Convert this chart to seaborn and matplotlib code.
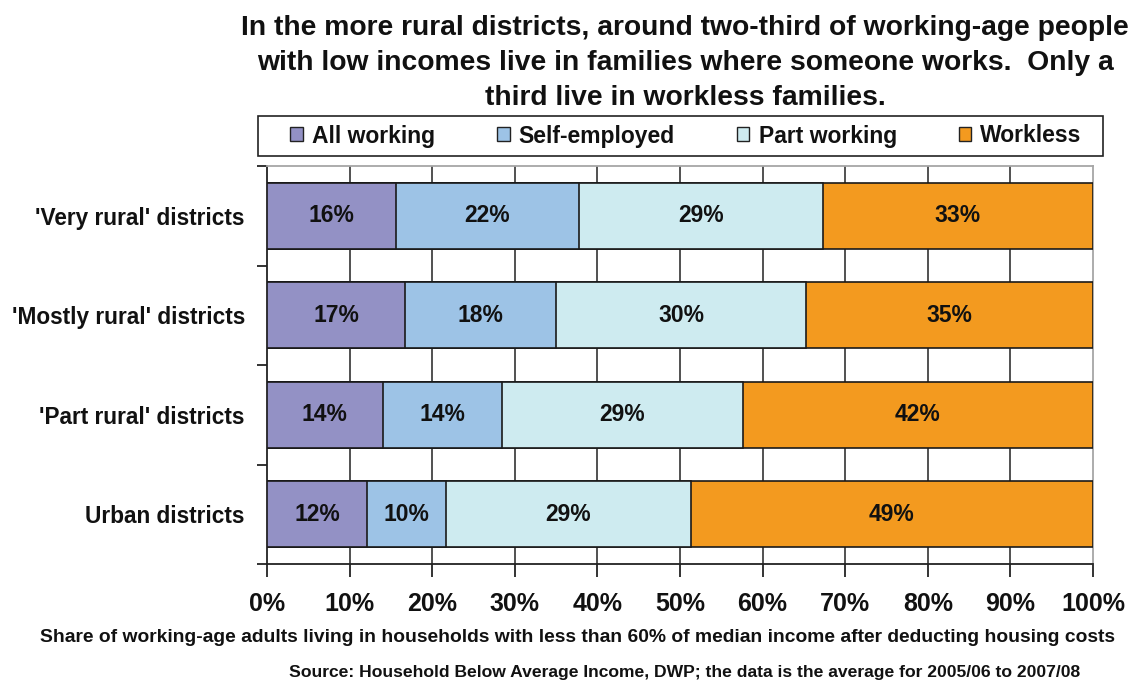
import matplotlib
matplotlib.use("Agg")
import matplotlib.pyplot as plt
import seaborn as sns
import pandas as pd
import numpy as np
from matplotlib.patches import Patch, Rectangle

categories = ["'Very rural' districts", "'Mostly rural' districts", "'Part rural' districts", "Urban districts"]
series = ["All working", "Self-employed", "Part working", "Workless"]
all_working = [15.6, 16.7, 14.0, 12.1]
self_employed = [22.2, 18.3, 14.4, 9.6]
part_working = [29.5, 30.3, 29.2, 29.6]
workless = [32.7, 34.7, 42.4, 48.7]
labels_all = ["16%", "17%", "14%", "12%"]
labels_self = ["22%", "18%", "14%", "10%"]
labels_part = ["29%", "30%", "29%", "29%"]
labels_workless = ["33%", "35%", "42%", "49%"]
tick_values = [0, 10, 20, 30, 40, 50, 60, 70, 80, 90, 100]
tick_labels = ["0%", "10%", "20%", "30%", "40%", "50%", "60%", "70%", "80%", "90%", "100%"]
colors = ["#9391C5", "#9DC3E6", "#CEEBF0", "#F39A1F"]

title_lines = ["In the more rural districts, around two-third of working-age people",
               "with low incomes live in families where someone works.  Only a",
               "third live in workless families."]
xlabel = "Share of working-age adults living in households with less than 60% of median income after deducting housing costs"
source = "Source: Household Below Average Income, DWP; the data is the average for 2005/06 to 2007/08"

sns.set_theme(style="white")
plt.rcParams['font.family'] = ['Liberation Sans', 'DejaVu Sans']
plt.rcParams['font.weight'] = 'bold'
plt.rcParams['text.color'] = '#111111'
plt.rcParams['xtick.color'] = '#111111'
plt.rcParams['ytick.color'] = '#111111'

values = [all_working, self_employed, part_working, workless]
bar_labels = [labels_all, labels_self, labels_part, labels_workless]
cum = np.cumsum(np.array(values), axis=0)

df = pd.DataFrame({"category": categories})
for i, s in enumerate(series):
    df[s + "_cum"] = cum[i]

fig = plt.figure(figsize=(11.34, 6.82), dpi=100)
ax = fig.add_axes([267/1134, 1 - 564/682, (1093-267)/1134, (564-166)/682])

for i in reversed(range(len(series))):
    sns.barplot(data=df, x=series[i] + "_cum", y="category", orient="h",
                color=colors[i], saturation=1, width=0.66, edgecolor="#1a1a1a",
                linewidth=1.2, ax=ax, zorder=3)

for i in range(len(series)):
    starts = cum[i] - np.array(values[i])
    for j in range(len(categories)):
        ax.text(starts[j] + values[i][j] / 2, j, bar_labels[i][j], ha="center", va="center",
                fontsize=16.5, fontweight="bold", color="#111111", zorder=5)

ax.set_xlim(0, 100)
ax.set_ylim(3.5, -0.5)
ax.set_xticks(tick_values)
ax.set_xticklabels(tick_labels, fontsize=18, fontweight="bold")
ax.set_yticks(range(len(categories)))
ax.set_yticklabels(categories, fontsize=16.3, fontweight="bold")
ax.set_yticks([-0.5, 0.5, 1.5, 2.5, 3.5], minor=True)
ax.tick_params(axis="y", which="major", length=0, pad=16, left=False)
ax.tick_params(axis="y", which="minor", length=7, width=1.2, color="#111111", direction="out", left=True)
ax.tick_params(axis="x", which="major", length=9, width=1.2, color="#111111", direction="out",
               pad=11, bottom=True)
for v in tick_values[1:-1]:
    ax.axvline(v, color="#222222", lw=1.1, zorder=1)
ax.set_xlabel("")
ax.set_ylabel("")
for side in ["left", "bottom"]:
    ax.spines[side].set_color("#222222")
    ax.spines[side].set_linewidth(1.3)
for side in ["top", "right"]:
    ax.spines[side].set_color("#A6A6A6")
    ax.spines[side].set_linewidth(1.3)
    ax.spines[side].set_visible(True)

# legend box
fig.patches.append(Rectangle((258/1134, 1 - 156/682), (1103-258)/1134, 40/682,
                             transform=fig.transFigure, facecolor="white",
                             edgecolor="#222222", linewidth=1.2, zorder=0))
handles = [Patch(facecolor=c, edgecolor="#222222", linewidth=1.0) for c in colors]
leg = fig.legend(handles, series, loc="center",
                 bbox_to_anchor=(686/1134, 1 - 136/682),
                 ncol=4, frameon=False,
                 handlelength=0.55, handleheight=0.55, handletextpad=0.4,
                 columnspacing=2.7, borderaxespad=0, borderpad=0,
                 prop={"size": 16.5, "weight": "bold"})

for k, line in enumerate(title_lines):
    fig.text(685/1134, 1 - (28 + 35*k)/682, line, ha="center", va="center", fontsize=20.3,
             fontweight="bold")
fig.text(577/1134, 1 - 637/682, xlabel, ha="center", va="center", fontsize=13.9, fontweight="bold")
fig.text(1080/1134, 1 - 672/682, source, ha="right", va="center", fontsize=12.6,
         fontweight="bold")

fig.savefig("out.png", dpi=100)
